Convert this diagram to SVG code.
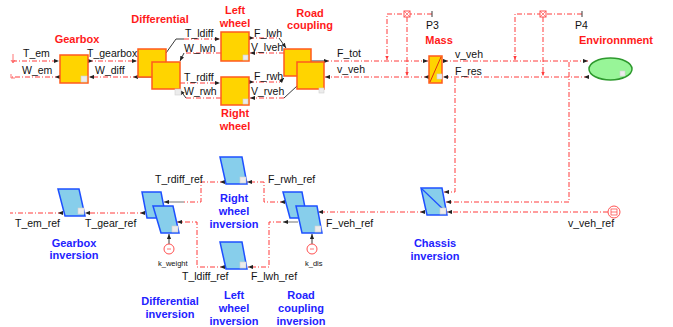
<svg xmlns="http://www.w3.org/2000/svg" width="673" height="327" viewBox="0 0 673 327">
<style>
.sig{fill:none;stroke:#ff3b3b;stroke-width:1;stroke-dasharray:5 2 1 2}
.blk{fill:none;stroke:#3a3a3a;stroke-width:1}
.gry{fill:none;stroke:#8a8a8a;stroke-width:1.2}
.yb{fill:#ffd400;stroke:#ff5a1e;stroke-width:1.5}
.bp{fill:#87ceeb;stroke:#1e50ff;stroke-width:1.5}
.ic{fill:#ececec;stroke:#cfcfcf;stroke-width:0.6}
.sen{fill:#fff;stroke:#ff5050;stroke-width:1}
.t{font-family:"Liberation Sans",Arial,sans-serif;font-size:10.5px;fill:#111}
.ts{font-family:"Liberation Sans",Arial,sans-serif;font-size:7.5px;fill:#111}
.lr{font-family:"Liberation Sans",Arial,sans-serif;font-size:11px;font-weight:bold;fill:#ff1a1a;text-anchor:middle}
.lb{font-family:"Liberation Sans",Arial,sans-serif;font-size:11px;font-weight:bold;fill:#2222ff;text-anchor:middle}
</style>
<defs>
<marker id="ae" viewBox="0 0 6 6" refX="6" refY="3" markerWidth="5" markerHeight="5" markerUnits="userSpaceOnUse" orient="auto"><path d="M0,0.5L6,3L0,5.5z" fill="#222"/></marker>
<marker id="as" viewBox="0 0 6 6" refX="0" refY="3" markerWidth="5" markerHeight="5" markerUnits="userSpaceOnUse" orient="auto"><path d="M0,0.5L6,3L0,5.5z" fill="#222"/></marker>
<marker id="rj" viewBox="0 0 6 6" refX="6" refY="3" markerWidth="4" markerHeight="4" markerUnits="userSpaceOnUse" orient="auto"><path d="M0,0.5L6,3L0,5.5z" fill="#ff3b3b"/></marker>
</defs>

<g id="connectors">
<!-- top chain -->
<path class="sig" d="M12,61H59" marker-end="url(#ae)"/>
<path class="sig" d="M60,77H12" marker-start="url(#as)"/>
<path class="sig" d="M88,61H137" marker-start="url(#as)" marker-end="url(#ae)"/>
<path class="blk" d="M152,77H138"/>
<path class="sig" d="M138,77H89" marker-start="url(#as)" marker-end="url(#ae)"/>
<path class="blk" d="M166,53L176,39H184"/>
<path class="sig" d="M184,39H220" marker-end="url(#ae)"/>
<path class="sig" d="M221,53H184"/>
<path class="blk" d="M184,53L180,61" marker-end="url(#ae)"/>
<path class="sig" d="M180,83H220" marker-end="url(#ae)"/>
<path class="sig" d="M221,98H186"/>
<path class="blk" d="M186,98L180,90" marker-end="url(#ae)"/>
<path class="sig" d="M249,38H279" marker-start="url(#as)"/>
<path class="blk" d="M279,38L286,48" marker-end="url(#ae)"/>
<path class="sig" d="M284,53H250" marker-end="url(#ae)"/>
<path class="sig" d="M249,82H280" marker-start="url(#as)"/>
<path class="blk" d="M280,82L284,78" marker-end="url(#ae)"/>
<path class="blk" d="M297,86L284,98"/>
<path class="sig" d="M284,98H250" marker-end="url(#ae)"/>
<path class="blk" d="M311,61H324"/>
<path class="sig" d="M324,61H428" marker-start="url(#as)" marker-end="url(#ae)"/>
<path class="sig" d="M429,77H325" marker-start="url(#as)" marker-end="url(#ae)"/>
<path class="sig" d="M443,61H588" marker-start="url(#as)" marker-end="url(#ae)"/>
<path class="sig" d="M589,77H443" marker-start="url(#as)" marker-end="url(#ae)"/>
<!-- sensor buses -->
<path class="sig" d="M432,14H387V60" marker-end="url(#rj)"/>
<path class="blk" d="M432,11V17"/>
<path class="sig" d="M407,17V76" marker-end="url(#rj)"/>
<path class="sig" d="M582,14H515V60" marker-end="url(#rj)"/>
<path class="blk" d="M582,11V17"/>
<path class="sig" d="M543,17V76" marker-end="url(#rj)"/>
<path class="sig" d="M455,78V192H444" marker-end="url(#ae)"/>
<path class="sig" d="M569,62V202H446" marker-end="url(#ae)"/>
<!-- inversion chain -->
<path class="sig" d="M608,212H447" marker-end="url(#ae)"/>
<path class="sig" d="M425,212H318" marker-start="url(#as)" marker-end="url(#ae)"/>
<path class="sig" d="M285,202H264V182H247" marker-start="url(#as)" marker-end="url(#ae)"/>
<path class="gry" d="M298,222H283" marker-end="url(#ae)"/>
<path class="sig" d="M281,222H269V267H248" marker-end="url(#ae)"/>
<path class="sig" d="M225,182H201V202H184" marker-start="url(#as)"/>
<path class="gry" d="M184,202H164" marker-end="url(#ae)"/>
<path class="sig" d="M225,267H197V222H177" marker-start="url(#as)" marker-end="url(#ae)"/>
<path class="sig" d="M145,213H85" marker-start="url(#as)" marker-end="url(#ae)"/>
<path class="sig" d="M63,213H10" marker-start="url(#as)"/>
<path class="blk" d="M169,244V234" marker-end="url(#ae)"/>
<path class="blk" d="M312,244V234" marker-end="url(#ae)"/>
</g>

<g id="ports">
<path d="M13,54V62M11,60L13,63L15,60" fill="none" stroke="#ff5050" stroke-width="0.8"/>
<path d="M11,74V78H15" fill="none" stroke="#ff5050" stroke-width="0.8"/>
</g>

<g id="gearbox">
<rect class="yb" x="60" y="55" width="28" height="28"/>
<rect class="ic" x="81" y="76" width="6" height="6"/>
<text class="lr" x="77" y="43">Gearbox</text>
</g>
<g id="differential">
<rect class="yb" x="138" y="49" width="28" height="28"/>
<rect class="yb" x="152" y="62" width="28" height="27"/>
<rect class="ic" x="175" y="89" width="6" height="6"/>
<text class="lr" x="160" y="23">Differential</text>
</g>
<g id="left-wheel">
<rect class="yb" x="221" y="32" width="28" height="29"/>
<rect class="ic" x="243" y="55" width="5" height="5"/>
<text class="lr" x="235" y="14">Left</text>
<text class="lr" x="235" y="27">wheel</text>
</g>
<g id="right-wheel">
<rect class="yb" x="221" y="77" width="28" height="28"/>
<rect class="ic" x="243" y="99" width="5" height="5"/>
<text class="lr" x="235" y="117">Right</text>
<text class="lr" x="235" y="130">wheel</text>
</g>
<g id="road-coupling">
<rect class="yb" x="284" y="49" width="27" height="27"/>
<rect class="yb" x="297" y="62" width="27" height="27"/>
<rect class="ic" x="319" y="88" width="5" height="5"/>
<text class="lr" x="310" y="17">Road</text>
<text class="lr" x="310" y="29">coupling</text>
</g>
<g id="mass">
<rect class="yb" x="429" y="56" width="13" height="27"/>
<path d="M430,82L441,57" stroke="#e03010" stroke-width="1" fill="none"/>
<rect class="ic" x="437" y="74" width="5" height="5"/>
<text class="t" x="426" y="29">P3</text>
<text class="lr" x="439" y="44">Mass</text>
</g>
<g id="environment">
<ellipse cx="610.5" cy="69" rx="21.5" ry="11" fill="#98f598" stroke="#2e9a2e" stroke-width="1.5"/>
<rect class="ic" x="620" y="71" width="5" height="5"/>
<text class="t" x="575" y="29">P4</text>
<text class="lr" x="616" y="44">Environnment</text>
</g>
<g id="sensor-p3">
<rect class="sen" x="404" y="11" width="6" height="6"/>
<path d="M404,11L410,17M410,11L404,17" stroke="#ff5050" stroke-width="0.7"/>
</g>
<g id="sensor-p4">
<rect class="sen" x="540" y="11" width="6" height="6"/>
<path d="M540,11L546,17M546,11L540,17" stroke="#ff5050" stroke-width="0.7"/>
</g>

<g id="gearbox-inversion">
<path class="bp" d="M58,189H79L85,216H65Z"/>
<rect class="ic" x="78" y="208" width="6" height="6"/>
<text class="lb" x="74" y="247">Gearbox</text>
<text class="lb" x="74" y="259">inversion</text>
</g>
<g id="differential-inversion">
<path class="bp" d="M142,192H161L166,218H147Z"/>
<path class="bp" d="M153,206H173L179,233H161Z"/>
<rect class="ic" x="172" y="226" width="6" height="6"/>
<text class="lb" x="170" y="305">Differential</text>
<text class="lb" x="170" y="318">inversion</text>
</g>
<g id="right-wheel-inversion">
<path class="bp" d="M220,157H242L247,184H226Z"/>
<rect class="ic" x="240" y="177" width="6" height="6"/>
<text class="lb" x="234" y="202">Right</text>
<text class="lb" x="234" y="215">wheel</text>
<text class="lb" x="234" y="228">inversion</text>
</g>
<g id="left-wheel-inversion">
<path class="bp" d="M220,242H242L247,269H226Z"/>
<rect class="ic" x="240" y="262" width="6" height="6"/>
<text class="lb" x="234" y="299">Left</text>
<text class="lb" x="234" y="312">wheel</text>
<text class="lb" x="234" y="325">inversion</text>
</g>
<g id="road-coupling-inversion">
<path class="bp" d="M283,192H302L307,218H290Z"/>
<path class="bp" d="M296,206H317L322,233H302Z"/>
<rect class="ic" x="315" y="226" width="6" height="6"/>
<text class="lb" x="301" y="299">Road</text>
<text class="lb" x="301" y="312">coupling</text>
<text class="lb" x="301" y="325">inversion</text>
</g>
<g id="chassis-inversion">
<path class="bp" d="M421,188H442L447,215H427Z"/>
<path d="M422,189L445,211" stroke="#1e50ff" stroke-width="1.2" fill="none"/>
<rect class="ic" x="440" y="208" width="6" height="6"/>
<text class="lb" x="435" y="247">Chassis</text>
<text class="lb" x="435" y="260">inversion</text>
</g>
<g id="k_weight">
<circle class="sen" cx="169" cy="249" r="5"/>
<path d="M167,249H171" stroke="#ff5050" stroke-width="0.8"/>
<text class="ts" x="158" y="266">k_weight</text>
</g>
<g id="k_dis">
<circle class="sen" cx="312" cy="249" r="5"/>
<path d="M310,249H314" stroke="#ff5050" stroke-width="0.8"/>
<text class="ts" x="305" y="266">k_dis</text>
</g>
<g id="v_veh_ref">
<circle class="sen" cx="614" cy="212" r="6"/>
<rect x="611" y="209" width="6" height="6" fill="none" stroke="#ff5050" stroke-width="0.8"/>
<path d="M611,212H617" stroke="#ff5050" stroke-width="0.8"/>
<text class="t" x="568" y="227">v_veh_ref</text>
</g>

<g id="labels">
<text class="t" x="23" y="57">T_em</text>
<text class="t" x="22" y="74">W_em</text>
<text class="t" x="87" y="57">T_gearbox</text>
<text class="t" x="95" y="74">W_diff</text>
<text class="t" x="185" y="37">T_ldiff</text>
<text class="t" x="184" y="52">W_lwh</text>
<text class="t" x="184" y="80.5">T_rdiff</text>
<text class="t" x="184" y="95">W_rwh</text>
<text class="t" x="254" y="36.5">F_lwh</text>
<text class="t" x="251" y="51">V_lveh</text>
<text class="t" x="254" y="80">F_rwh</text>
<text class="t" x="251" y="95">V_rveh</text>
<text class="t" x="337" y="57">F_tot</text>
<text class="t" x="337" y="73">v_veh</text>
<text class="t" x="455" y="58">v_veh</text>
<text class="t" x="455" y="75">F_res</text>
<text class="t" x="155" y="182.5">T_rdiff_ref</text>
<text class="t" x="15" y="227">T_em_ref</text>
<text class="t" x="85" y="227">T_gear_ref</text>
<text class="t" x="182" y="280">T_ldiff_ref</text>
<text class="t" x="268" y="182.5">F_rwh_ref</text>
<text class="t" x="251" y="280">F_lwh_ref</text>
<text class="t" x="326" y="226.5">F_veh_ref</text>
</g>
</svg>
